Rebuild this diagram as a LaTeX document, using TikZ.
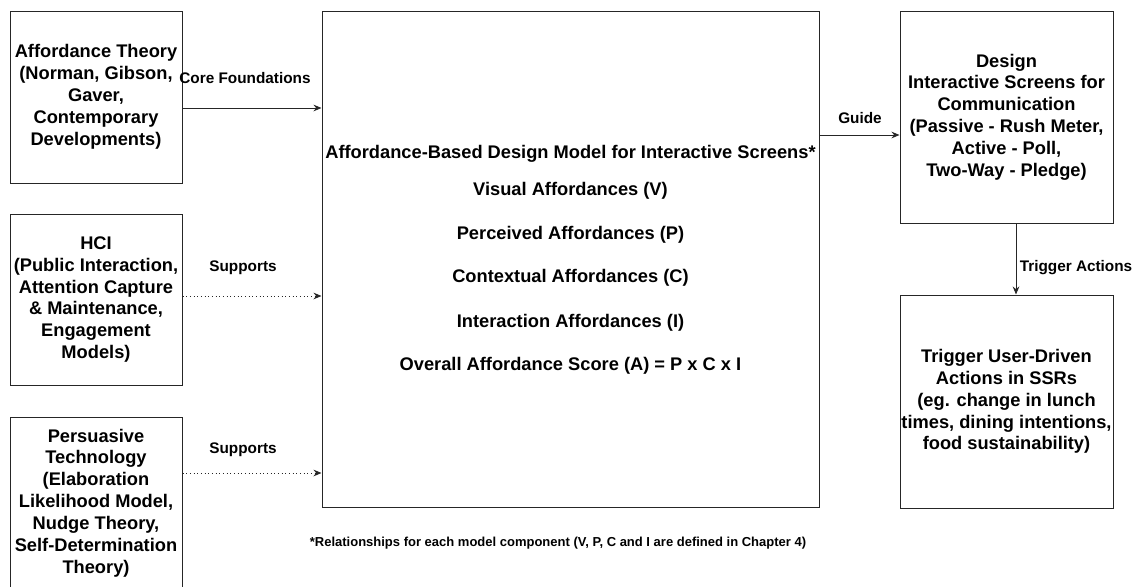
\documentclass[tikz,border=0pt]{standalone}
\usepackage{fontspec}
\setmainfont{Liberation Sans}
\usetikzlibrary{arrows.meta}
\begin{document}
\begin{tikzpicture}[x=0.75pt,y=-0.75pt,
  box/.style={draw=black!85, line width=0.75pt, align=center, inner sep=0pt,
    font=\bfseries\fontsize{13.7}{16.4}\selectfont},
  lbl/.style={font=\bfseries\fontsize{11.5}{13}\selectfont, inner sep=0pt},
  fnt/.style={font=\bfseries\fontsize{9.75}{12}\selectfont, inner sep=0pt},
  mtxt/.style={font=\bfseries\fontsize{13.7}{16}\selectfont, inner sep=0pt},
  arr/.style={line width=0.75pt, draw=black!85, -{Stealth[length=6pt,width=5pt]}},
  darr/.style={arr, dotted}]
\useasboundingbox (0,0) rectangle (1139,586);
\clip (0,0) rectangle (1139,586);
\node[box, minimum width=172*0.75pt, minimum height=172*0.75pt] (aff) at (96,97)
  {Affordance Theory\\(Norman, Gibson,\\Gaver,\\Contemporary\\Developments)};
\node[box, minimum width=172*0.75pt, minimum height=171*0.75pt] (hci) at (96,299.5)
  {HCI\\(Public Interaction,\\Attention Capture\\\& Maintenance,\\Engagement\\Models)};
\node[box, minimum width=172*0.75pt, minimum height=172*0.75pt] (per) at (96,503)
  {Persuasive\\Technology\\(Elaboration\\Likelihood Model,\\Nudge Theory,\\Self-Determination\\Theory)};
\node[box, minimum width=497*0.75pt, minimum height=496*0.75pt] (main) at (570.5,259) {};
\node[box, minimum width=213*0.75pt, minimum height=212*0.75pt] (des) at (1006.5,117)
  {Design\\Interactive Screens for\\Communication\\(Passive - Rush Meter,\\Active - Poll,\\Two-Way - Pledge)};
\node[box, minimum width=213*0.75pt, minimum height=213*0.75pt] (trg) at (1006.5,401.5)
  {Trigger User-Driven\\Actions in SSRs\\(eg. change in lunch\\times, dining intentions,\\food sustainability)};
\node[mtxt] (t0) at (570.5,154) {Affordance-Based Design Model for Interactive Screens*};
\node[mtxt] (t1) at (570.5,191) {Visual Affordances (V)};
\node[mtxt] (t2) at (570.5,235) {Perceived Affordances (P)};
\node[mtxt] (t3) at (570.5,278) {Contextual Affordances (C)};
\node[mtxt] (t4) at (570.5,323) {Interaction Affordances (I)};
\node[mtxt] (t5) at (570.5,366) {Overall Affordance Score (A) = P x C x I};
\coordinate (m1) at (main.west |- 0,108);
\coordinate (m2) at (main.west |- 0,296);
\coordinate (m3) at (main.west |- 0,473);
\draw[arr] (aff.east |- m1) -- (m1);
\draw[darr] (hci.east |- m2) -- (m2);
\draw[darr] (per.east |- m3) -- (m3);
\coordinate (g1) at (main.east |- 0,135);
\draw[arr] (g1) -- (des.west |- g1);
\coordinate (d1) at (1016,0);
\draw[arr] (des.south -| d1) -- (trg.north -| d1);
\node[lbl] (l1) at (245,78) {Core Foundations};
\node[lbl] (l2) at (243,268) {Supports};
\node[lbl] (l3) at (243,450) {Supports};
\node[lbl] (l4) at (860,118) {Guide};
\node[lbl] (l5) at (1076,268) {Trigger Actions};
\node[fnt] (fn) at (558,543) {*Relationships for each model component (V, P, C and I are defined in Chapter 4)};
\end{tikzpicture}
\end{document}
